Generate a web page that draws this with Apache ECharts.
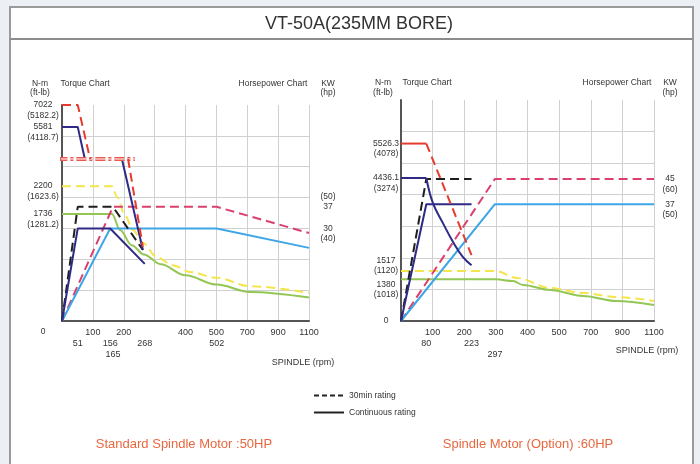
<!DOCTYPE html>
<html><head><meta charset="utf-8">
<script src="https://cdn.jsdelivr.net/npm/echarts@6/dist/echarts.min.js"></script>
<style>html,body{margin:0;padding:0;background:#eceff3}#c{width:700px;height:464px}</style>
</head><body><div id="c"></div>
<script>
// ---------------- data ----------------
const xTicks = [0, 100, 200, 300, 400, 500, 700, 900, 1100];
const stdXLabels = [100, 200, 400, 500, 700, 900, 1100];
const optXLabels = [100, 200, 300, 400, 500, 700, 900, 1100];
const stdSpeedRow2 = [51, 156, 268, 502];
const stdSpeedRow3 = [165];
const optSpeedRow2 = [80, 223];
const optSpeedRow3 = [297];

// torque axis (N-m) labels and where they sit on the shared 0-70 chart scale
const stdTorqueNm = [0, 1736, 2200, 5581, 7022];
const stdTorqueFtlb = ['', '1281.2', '1623.6', '4118.7', '5182.2'];
const stdTorqueAt = [0, 34.7, 43.7, 62.9, 70];
const optTorqueNm = [0, 1380, 1517, 4436.1, 5526.3];
const optTorqueFtlb = ['', '1018', '1120', '3274', '4078'];
const optTorqueAt = [0, 13.2, 15.8, 45.3, 56.2];

// power axis (kW) labels
const stdPowerKw = [37, 30];
const stdPowerHp = [50, 40];
const optPowerKw = [45, 37];
const optPowerHp = [60, 50];

// ---- Standard spindle motor 50HP : [rpm, value] ----
const stdTorque30 = [[0, 7022], [51, 7022], [91, 3750]];
const stdTorque30b = [[214, 3750], [262, 1200]];
const stdTorqueS = [[0, 5581], [51, 5581], [74, 3750]];
const stdTorqueSb = [[194, 3750], [262, 1151]];
const stdTorqueShift = [[-15, 3750], [236, 3750]];
const stdTorqueHigh30 = [[0, 2200], [162, 2200], [178, 2020], [204, 1715], [230, 1475], [262, 1265], [307, 1035], [359, 905], [414, 795], [502, 700], [716, 565], [1100, 455]];
const stdTorqueHighS = [[0, 1736], [162, 1736], [188, 1475], [226, 1230], [265, 1080], [320, 920], [400, 740], [502, 590], [716, 470], [1100, 380]];
const stdPowerLow30 = [[0, 0], [51, 37], [165, 37], [262, 23]];
const stdPowerLowS = [[0, 0], [51, 30], [156, 30], [268, 18.5]];
const stdPowerHigh30 = [[0, 0], [165, 37], [502, 37], [1100, 28.5]];
const stdPowerHighS = [[0, 0], [156, 30], [502, 30], [1100, 23.7]];

// ---- Option spindle motor 60HP ----
const optTorqueTop = [[0, 5526.3], [80, 5526.3]];
const optTorqueDrop = [[80, 5526.3], [223, 2017]];
const optTorqueSFlat = [[0, 4436.1], [80, 4436.1]];
const optTorqueSCurve = [[80, 4436.1], [101, 3646], [133, 3014], [165, 2422], [196, 1957], [223, 1701]];
const optPowerLow30 = [[0, 0], [80, 45], [223, 45]];
const optPowerLowS = [[0, 0], [80, 37], [223, 37]];
const optPowerHigh30 = [[0, 0], [297, 45], [1100, 45]];
const optPowerHighS = [[0, 0], [297, 37], [1100, 37]];
const optTorqueHigh30 = [[0, 1517], [300, 1517], [367, 1401], [472, 1093], [652, 927], [860, 795], [1100, 662]];
const optTorqueHighS = [[0, 1380], [300, 1380], [354, 1325], [386, 1192], [472, 1027], [652, 828], [860, 662], [1100, 530]];

// ---------------- helpers ----------------
const FONT = 'Liberation Sans, Arial, sans-serif';
const C = {red: '#e63b2e', navy: '#2e2a85', yellow: '#f5e54c', green: '#93c655', black: '#1e1e1e',
  magenta: '#d9406e', blue: '#3ea6e6', grid: '#d0d0d0', axis: '#555', text: '#333'};
const DASH = [9, 5];

function interp(xs, ys, v) {
  if (v <= xs[0]) return ys[0];
  for (let i = 0; i < xs.length - 1; i++) {
    if (v <= xs[i + 1]) return ys[i] + (v - xs[i]) / (xs[i + 1] - xs[i]) * (ys[i + 1] - ys[i]);
  }
  return ys[ys.length - 1];
}
function rpmToPos(r) {
  if (r <= xTicks[1]) return r / xTicks[1];
  return interp(xTicks, xTicks.map((_, i) => i), r);
}
function posToRpm(p) { return interp(xTicks.map((_, i) => i), xTicks, p); }
function torquePos(gi, nm) { return gi ? interp(optTorqueNm, optTorqueAt, nm) : interp(stdTorqueNm, stdTorqueAt, nm); }

const mainX = [], mainY = [];
function mk(gi, kind, data, color, type, width, extra) {
  return Object.assign({
    type: 'line', xAxisIndex: mainX[gi], yAxisIndex: mainY[gi], symbol: 'none', silent: true, clip: false,
    data: data.map(p => [rpmToPos(p[0]), kind === 'T' ? torquePos(gi, p[1]) : p[1]]),
    lineStyle: {color: color, width: width || 2, type: type || 'solid'}
  }, extra || {});
}
const SMOOTH = {smooth: 0.35, smoothMonotone: 'x'};

const grids = [
  {left: 62, top: 105, width: 247, height: 216},
  {left: 401, top: 100, width: 253, height: 221}
];

function torqueLabelText(gi, i) {
  const nms = gi ? optTorqueNm : stdTorqueNm, ft = gi ? optTorqueFtlb : stdTorqueFtlb;
  const n = nms[i];
  if (n === 0) return gi ? '0' : '\n\n0';
  const body = n + '\n(' + ft[i] + ')';
  if (gi === 1 && n === 1517) return body + '\n';
  if (gi === 1 && n === 1380) return '\n\n' + body;
  return '\n' + body;
}
function powerLabelText(gi, i) {
  const kw = gi ? optPowerKw : stdPowerKw, hp = gi ? optPowerHp : stdPowerHp;
  if (gi === 0 && i === 0) return '(' + hp[i] + ')\n' + kw[i] + '\n';
  return '\n' + kw[i] + '\n(' + hp[i] + ')';
}

const xAxes = [], yAxes = [];
function labelOnlyY(gi, pos, value, margin, text) {
  yAxes.push({
    gridIndex: gi, type: 'value', position: pos, offset: 0, min: 0, max: 70,
    axisLine: {show: false}, axisTick: {show: false}, splitLine: {show: false},
    axisLabel: {margin: margin, align: 'center', lineHeight: 10.5, fontSize: 8.5, color: C.text, fontFamily: FONT,
      showMinLabel: true, showMaxLabel: true, customValues: [value], formatter: () => text}
  });
}
[0, 1].forEach(gi => {
  const labels = gi ? optXLabels : stdXLabels;
  const row2 = gi ? optSpeedRow2 : stdSpeedRow2;
  const row3 = gi ? optSpeedRow3 : stdSpeedRow3;
  const lblStyle = {fontSize: 9, color: C.text, fontFamily: FONT, showMinLabel: true, showMaxLabel: true};
  mainX[gi] = xAxes.length;
  xAxes.push({
    gridIndex: gi, type: 'value', position: 'bottom', min: 0, max: 8, interval: 1,
    axisLine: {show: true, lineStyle: {color: C.axis, width: 2}}, axisTick: {show: false},
    splitLine: {show: true, lineStyle: {color: C.grid, width: 1}},
    axisLabel: Object.assign({margin: 7,
      formatter: v => { const r = xTicks[Math.round(v)]; return labels.indexOf(r) >= 0 ? String(r) : ''; }}, lblStyle)
  });
  [[row2, 18], [row3, 29]].forEach(([vals, m]) => {
    xAxes.push({
      gridIndex: gi, type: 'value', position: 'bottom', offset: 0, min: 0, max: 8,
      axisLine: {show: false}, axisTick: {show: false}, splitLine: {show: false},
      axisLabel: Object.assign({margin: m, customValues: vals.map(rpmToPos),
        formatter: v => String(Math.round(posToRpm(v)))}, lblStyle)
    });
  });
  mainY[gi] = yAxes.length;
  yAxes.push({
    gridIndex: gi, type: 'value', position: 'left', min: 0, max: 70, interval: 10,
    axisLine: {show: true, lineStyle: {color: C.axis, width: 2}}, axisTick: {show: false},
    splitLine: {show: true, showMaxLine: false, lineStyle: {color: C.grid, width: 1}},
    axisLabel: {show: false}
  });
  const nms = gi ? optTorqueNm : stdTorqueNm;
  nms.forEach((n, i) => labelOnlyY(gi, 'left', torquePos(gi, n), gi ? 15 : 19, torqueLabelText(gi, i)));
  const kws = gi ? optPowerKw : stdPowerKw;
  kws.forEach((k, i) => labelOnlyY(gi, 'right', k, gi ? 16 : 19, powerLabelText(gi, i)));
});

const series = [
  // standard
  mk(0, 'T', stdTorqueHigh30, C.yellow, DASH, 2, SMOOTH),
  mk(0, 'T', stdTorqueHighS, C.green, 'solid', 2, SMOOTH),
  mk(0, 'P', stdPowerHigh30, C.magenta, DASH),
  mk(0, 'P', stdPowerHighS, C.blue),
  mk(0, 'P', stdPowerLow30, C.black, DASH),
  mk(0, 'P', stdPowerLowS, C.navy),
  mk(0, 'T', stdTorqueS, C.navy),
  mk(0, 'T', stdTorqueSb, C.navy),
  mk(0, 'T', stdTorqueShift, '#e9594c', [10, 3, 3, 3], 4),
  mk(0, 'T', stdTorqueShift, '#ffffff', [10, 3, 3, 3], 1),
  mk(0, 'T', stdTorque30, C.red, DASH),
  mk(0, 'T', stdTorque30b, C.red, DASH),
  // option
  mk(1, 'T', optTorqueHigh30, C.yellow, DASH, 2, SMOOTH),
  mk(1, 'T', optTorqueHighS, C.green, 'solid', 2, SMOOTH),
  mk(1, 'P', optPowerHigh30, C.magenta, DASH),
  mk(1, 'P', optPowerHighS, C.blue),
  mk(1, 'P', optPowerLow30, C.black, DASH),
  mk(1, 'P', optPowerLowS, C.navy),
  mk(1, 'T', optTorqueSFlat, C.navy),
  mk(1, 'T', optTorqueSCurve, C.navy, 'solid', 2, {smooth: 0.4}),
  mk(1, 'T', optTorqueDrop, C.red, DASH),
  mk(1, 'T', optTorqueTop, C.red),
  // legend entries
  {name: '30min rating', type: 'line', data: [], symbol: 'none', xAxisIndex: mainX[0], yAxisIndex: mainY[0],
    itemStyle: {color: '#222'}, lineStyle: {color: '#222', width: 1.5, type: [5, 3]}},
  {name: 'Continuous rating', type: 'line', data: [], symbol: 'none', xAxisIndex: mainX[0], yAxisIndex: mainY[0],
    itemStyle: {color: '#222'}, lineStyle: {color: '#222', width: 1.5}}
];

function txt(text, x, y, size, extra) {
  return {type: 'text', x: x, y: y, silent: true,
    style: Object.assign({text: text, fill: C.text, font: size + 'px ' + FONT, align: 'center', verticalAlign: 'middle'}, extra || {})};
}

const graphic = [
  {type: 'rect', shape: {x: 10, y: 7, width: 683, height: 470}, style: {fill: '#ffffff', stroke: '#9a9a9a', lineWidth: 2}, z: -10, silent: true},
  {type: 'line', shape: {x1: 10, y1: 39, x2: 693, y2: 39}, style: {stroke: '#8c8c8c', lineWidth: 2}, z: -9, silent: true},
  txt('VT-50A(235MM BORE)', 359, 24, 18),
  // standard chart headers
  txt('N-m', 40, 84, 8.5), txt('(ft-lb)', 40, 93, 8.5),
  txt('Torque Chart', 85, 84, 8.5), txt('Horsepower Chart', 273, 84, 8.5),
  txt('KW', 328, 84, 8.5), txt('(hp)', 328, 93, 8.5),
  txt('SPINDLE (rpm)', 303, 363, 9),
  // option chart headers
  txt('N-m', 383, 83, 8.5), txt('(ft-lb)', 383, 93, 8.5),
  txt('Torque Chart', 427, 83, 8.5), txt('Horsepower Chart', 617, 83, 8.5),
  txt('KW', 670, 83, 8.5), txt('(hp)', 670, 93, 8.5),
  txt('SPINDLE (rpm)', 647, 351, 9),
  // captions
  txt('Standard Spindle Motor :50HP', 184, 444, 13, {fill: '#e8673f'}),
  txt('Spindle Motor (Option) :60HP', 528, 444, 13, {fill: '#e8673f'})
];

const chart = echarts.init(document.getElementById('c'), null, {renderer: 'canvas'});
chart.setOption({
  backgroundColor: '#eceff3',
  animation: false,
  grid: grids,
  xAxis: xAxes,
  yAxis: yAxes,
  legend: {left: 308, top: 386, orient: 'vertical', itemWidth: 30, itemHeight: 10, itemGap: 8,
    selectedMode: false, data: ['30min rating', 'Continuous rating'],
    itemStyle: {opacity: 0},
    textStyle: {fontSize: 8.5, color: C.text, fontFamily: FONT}},
  graphic: graphic,
  series: series
});
</script></body></html>
